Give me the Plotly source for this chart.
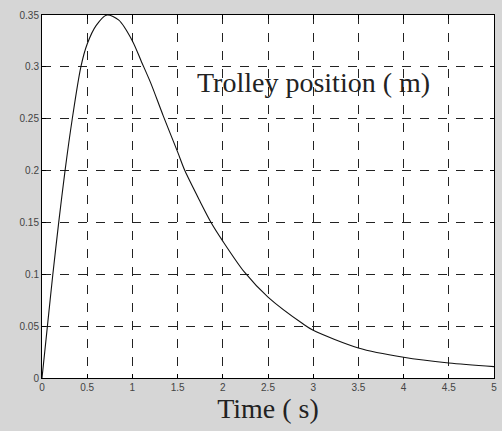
import plotly.graph_objects as go

# Data (time in s, trolley position in m)
time_s = [0, 0.06, 0.12, 0.185, 0.255, 0.335, 0.43, 0.5, 0.6, 0.72, 0.85, 1.0,
          1.1, 1.2, 1.34, 1.5, 1.58, 1.75, 1.87, 2.0, 2.24, 2.5, 2.89, 3.0,
          3.5, 4.0, 4.5, 5.0]
position_m = [0, 0.05, 0.10, 0.15, 0.20, 0.25, 0.30, 0.322, 0.340, 0.350, 0.345, 0.325,
              0.305, 0.285, 0.253, 0.218, 0.200, 0.170, 0.150, 0.132, 0.102, 0.078,
              0.052, 0.046, 0.029, 0.020, 0.0145, 0.011]

x_ticks = [0, 0.5, 1, 1.5, 2, 2.5, 3, 3.5, 4, 4.5, 5]
x_tick_labels = ["0", "0.5", "1", "1.5", "2", "2.5", "3", "3.5", "4", "4.5", "5"]
y_ticks = [0, 0.05, 0.1, 0.15, 0.2, 0.25, 0.3, 0.35]
y_tick_labels = ["0", "0.05", "0.1", "0.15", "0.2", "0.25", "0.3", "0.35"]

fig = go.Figure()
fig.add_trace(go.Scatter(
    x=time_s, y=position_m, mode="lines",
    line=dict(color="#111111", width=1.1, shape="spline", smoothing=0.8),
    showlegend=False, hoverinfo="skip"))

axis_common = dict(
    showline=True, linecolor="black", linewidth=1, mirror="ticks",
    ticks="inside", ticklen=4, tickcolor="black",
    showgrid=True, gridcolor="#222222", griddash="dash", gridwidth=1,
    zeroline=False,
    tickfont=dict(family="Liberation Sans, Arial, sans-serif", size=10, color="#444444"),
)

fig.update_xaxes(range=[0, 5], tickvals=x_ticks, ticktext=x_tick_labels,
                 title=dict(text="Time ( s)",
                            font=dict(family="Liberation Serif, Times New Roman, serif",
                                      size=28, color="#222222"),
                            standoff=2),
                 **axis_common)
fig.update_yaxes(range=[0, 0.35], tickvals=y_ticks, ticktext=y_tick_labels,
                 **axis_common)

fig.add_annotation(x=3.0, y=0.285, xref="x", yref="y", text="Trolley position ( m)",
                   showarrow=False,
                   font=dict(family="Liberation Serif, Times New Roman, serif",
                             size=28, color="#222222"))

fig.update_layout(
    width=502, height=431,
    margin=dict(l=42, r=5, t=15, b=53),
    paper_bgcolor="#d6d6d6",
    plot_bgcolor="white",
)

fig.write_html("out.html")
